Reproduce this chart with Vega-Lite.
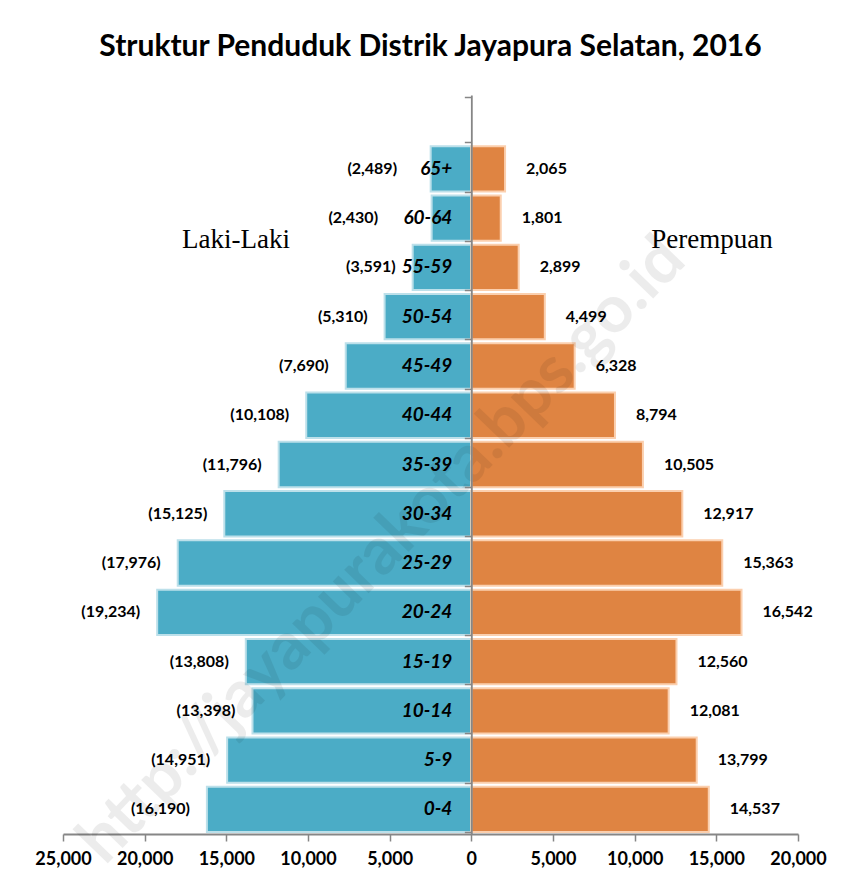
{
  "$schema": "https://vega.github.io/schema/vega-lite/v6.json",
  "width": 735,
  "height": 739,
  "autosize": {"type": "none"},
  "padding": {"left": 63, "top": 95, "right": 57, "bottom": 55},
  "background": "#ffffff",
  "title": {
    "text": "Struktur Penduduk Distrik Jayapura Selatan, 2016",
    "font": "Lato",
    "fontSize": 30,
    "fontWeight": "bold",
    "color": "#000000",
    "anchor": "middle",
    "offset": 33
  },
  "config": {"view": {"stroke": null}, "font": "Lato"},
  "data": {
    "values": [
      {"age": "65+", "L": 2489, "P": 2065},
      {"age": "60-64", "L": 2430, "P": 1801},
      {"age": "55-59", "L": 3591, "P": 2899},
      {"age": "50-54", "L": 5310, "P": 4499},
      {"age": "45-49", "L": 7690, "P": 6328},
      {"age": "40-44", "L": 10108, "P": 8794},
      {"age": "35-39", "L": 11796, "P": 10505},
      {"age": "30-34", "L": 15125, "P": 12917},
      {"age": "25-29", "L": 17976, "P": 15363},
      {"age": "20-24", "L": 19234, "P": 16542},
      {"age": "15-19", "L": 13808, "P": 12560},
      {"age": "10-14", "L": 13398, "P": 12081},
      {"age": "5-9", "L": 14951, "P": 13799},
      {"age": "0-4", "L": 16190, "P": 14537}
    ]
  },
  "transform": [
    {"fold": ["L", "P"], "as": ["sex", "pop"]},
    {"calculate": "datum.sex === 'L' ? -datum.pop : datum.pop", "as": "signed"},
    {"calculate": "datum.sex === 'L' ? '(' + format(datum.pop, ',') + ')' : format(datum.pop, ',')", "as": "lab"},
    {"calculate": "datum.sex === 'L' ? -(datum.age === '65+' ? 3508 : (datum.age === '60-64' ? 4671 : datum.pop)) : datum.pop", "as": "anchor"}
  ],
  "encoding": {
    "y": {
      "field": "age",
      "type": "nominal",
      "sort": null,
      "scale": {
        "domain": [" ", "65+", "60-64", "55-59", "50-54", "45-49", "40-44", "35-39", "30-34", "25-29", "20-24", "15-19", "10-14", "5-9", "0-4"],
        "paddingInner": 0.08,
        "paddingOuter": 0.04
      },
      "axis": {
        "orient": "left",
        "offset": -408.33,
        "labels": false,
        "ticks": true,
        "tickBand": "extent",
        "tickSize": 7,
        "tickColor": "#868686",
        "tickWidth": 1.5,
        "domainColor": "#868686",
        "domainWidth": 1.8,
        "grid": false,
        "title": null,
        "zindex": 1
      }
    }
  },
  "layer": [
    {
      "mark": {"type": "bar", "strokeWidth": 2},
      "encoding": {
        "x": {
          "field": "signed",
          "type": "quantitative",
          "scale": {"domain": [-25000, 20000], "nice": false, "zero": true},
          "axis": {
            "orient": "bottom",
            "values": [-25000, -20000, -15000, -10000, -5000, 0, 5000, 10000, 15000, 20000],
            "labelExpr": "format(abs(datum.value), ',')",
            "labelOverlap": false,
            "labelFlush": false,
            "domainColor": "#868686",
            "domainWidth": 1.8,
            "tickColor": "#868686",
            "tickWidth": 1.5,
            "tickSize": 7,
            "labelPadding": 9,
            "labelFont": "Lato",
            "labelFontSize": 18,
            "labelFontWeight": "bold",
            "labelColor": "#000000",
            "grid": false,
            "title": null
          }
        },
        "color": {
          "field": "sex",
          "type": "nominal",
          "scale": {"domain": ["L", "P"], "range": ["#4BACC6", "#DF8442"]},
          "legend": null
        },
        "stroke": {
          "field": "sex",
          "type": "nominal",
          "scale": {"domain": ["L", "P"], "range": ["#BCE0EA", "#FBCFAE"]},
          "legend": null
        }
      }
    },
    {
      "transform": [{"filter": "datum.sex === 'L'"}],
      "mark": {"type": "text", "align": "right", "baseline": "middle", "dx": -17, "font": "Lato", "fontSize": 16, "fontWeight": "bold", "color": "#000000"},
      "encoding": {
        "x": {"field": "anchor", "type": "quantitative"},
        "text": {"field": "lab"}
      }
    },
    {
      "transform": [{"filter": "datum.sex === 'P'"}],
      "mark": {"type": "text", "align": "left", "baseline": "middle", "dx": 21, "font": "Lato", "fontSize": 16, "fontWeight": "bold", "color": "#000000"},
      "encoding": {
        "x": {"field": "anchor", "type": "quantitative"},
        "text": {"field": "lab"}
      }
    },
    {
      "transform": [{"filter": "datum.sex === 'P'"}],
      "mark": {"type": "text", "align": "right", "baseline": "middle", "dx": -19, "font": "Lato", "fontSize": 19, "fontWeight": "bold", "fontStyle": "italic", "color": "#000000"},
      "encoding": {
        "x": {"datum": 0, "type": "quantitative"},
        "text": {"field": "age"}
      }
    },
    {
      "data": {"values": [{"name": "Laki-Laki", "pos": -14406}, {"name": "Perempuan", "pos": 14737}]},
      "mark": {"type": "text", "align": "center", "baseline": "alphabetic", "dy": 30, "font": "Liberation Serif", "fontSize": 27, "color": "#000000"},
      "encoding": {
        "x": {"field": "pos", "type": "quantitative"},
        "y": {"datum": "60-64", "type": "nominal"},
        "text": {"field": "name"}
      }
    },
    {
      "data": {"values": [{"wm": "http://jayapurakota.bps.go.id"}]},
      "mark": {"type": "text", "align": "center", "baseline": "middle", "angle": -46, "dy": -18, "font": "Lato", "fontSize": 66, "fontWeight": "bold", "color": "#000000", "opacity": 0.07},
      "encoding": {
        "x": {"datum": -4671, "type": "quantitative"},
        "y": {"datum": "25-29", "type": "nominal"},
        "text": {"field": "wm"}
      }
    }
  ]
}
